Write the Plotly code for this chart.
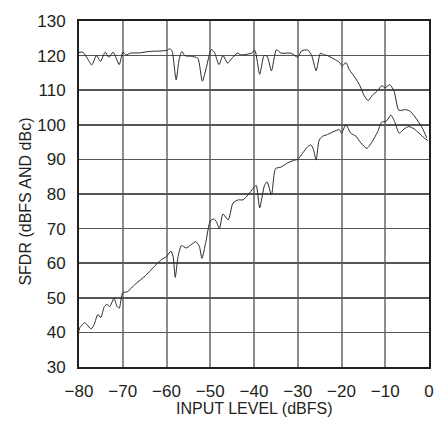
import plotly.graph_objects as go

# Upper curve (SFDR dBFS)
x_upper = [-80, -79.1, -78, -77.1, -76, -75.1, -74, -73.2, -72.2, -70.8, -70, -69.2, -68.3, -66, -64, -62, -60,
           -59.2, -58.7, -57.8, -57.1, -56.5, -55.8, -54.5, -53.5, -52.8, -51.8, -50.9, -49.8, -49.1, -48, -47.1,
           -46, -45.2, -43.8, -42.9, -40.6, -39.8, -38.7, -37.7, -37, -36, -34.9, -33.8, -31.5, -30, -29.1, -27.7,
           -26.8, -25.8, -24.8, -23.9, -23.2, -21.7, -20.5, -19.8, -19, -18.2, -17.1, -15.9, -14.8, -13.9, -12.9,
           -11.7, -10.8, -10, -9, -8, -6.9, -5.3, -4.2, -2.7, -1.5, -0.5]
y_upper = [120.9, 121, 119, 117.3, 120, 118.3, 121, 119.5, 121, 117.4, 121, 120.2, 120.7, 120.8, 121.2, 121.3, 121.5,
           122, 121.2, 113, 119, 121.2, 120, 119.8, 119.6, 119.2, 112.6, 116.5, 121.7, 121.1, 117.4, 120,
           117.8, 119, 120.7, 120.2, 120.7, 121.5, 114.6, 120, 119.8, 115.6, 121.7, 120.7, 120.7, 119.5, 121.4, 121.6,
           120, 115.6, 120.7, 120.2, 120, 119, 118.1, 117, 118, 115.9, 114, 111.6, 108.4, 107, 108.6,
           109.9, 111.3, 110.7, 111.6, 109.8, 104.2, 104.4, 103.8, 101.4, 99, 96.2]

# Lower curve (SFDR dBc)
x_lower = [-80, -79.8, -78.7, -77.2, -76.5, -75.7, -75, -74.2, -73.5, -73, -72, -71.3, -70.8, -70, -69, -67.1,
           -64.8, -63, -61.1, -60, -59, -58.5, -58, -57.4, -56.6, -55.5, -53.3, -52.5, -51.9, -51, -50, -49.2,
           -48.6, -47.9, -47.1, -45.9, -44.8, -43.6, -42.5, -41.4, -40.2, -39.5, -38.7, -37.6, -37, -36, -35.1,
           -33.8, -32.3, -30.7, -30, -28.9, -27.7, -27, -26.4, -25.8, -25.1, -24.3, -23.2, -21.7, -20.5, -20,
           -19, -17.9, -16.7, -15.6, -14.2, -12.9, -11.7, -10.8, -9.8, -8.7, -7.9, -6.8, -5.7, -4.6, -3.4,
           -2.3, -1.1, -0.3]
y_lower = [40.5, 41.4, 42.8, 41, 42.4, 45.2, 44.3, 47.5, 48.1, 47.4, 49.8, 47.5, 47, 51.5, 51.7, 54,
           56.4, 58.8, 61.1, 61.9, 63.5, 62, 55.9, 61.6, 65.1, 64.4, 66.2, 64.9, 61.4, 66.2, 72.2, 72.8,
           72, 70, 74.2, 72.5, 77.4, 78.3, 78.3, 79.7, 81.6, 82.5, 76, 82.5, 83.5, 79.7, 87.3,
           87.8, 89, 89.8, 90, 91.8, 93.7, 94.2, 92.8, 89.8, 95.6, 96.7, 97.2, 98.1, 98.6, 97.6,
           100, 97.6, 96.7, 94.8, 93.2, 95.3, 98.1, 100.8, 101, 102.8, 101, 97.6, 98.8, 99.5, 98.8,
           97.6, 96.2, 95.5]

x_ticks = [-80, -70, -60, -50, -40, -30, -20, -10, 0]
y_ticks = [30, 40, 50, 60, 70, 80, 90, 100, 110, 120, 130]
x_title = "INPUT LEVEL (dBFS)"
y_title = "SFDR (dBFS AND dBc)"

FONT = "Liberation Sans, Arial, Helvetica, sans-serif"
INK = "#231f20"

fig = go.Figure()
for xs, ys in ((x_upper, y_upper), (x_lower, y_lower)):
    fig.add_trace(go.Scatter(x=xs, y=ys, mode="lines",
                             line=dict(color="#2a2a2a", width=1, shape="spline", smoothing=0.6),
                             showlegend=False, hoverinfo="skip"))

fig.update_layout(
    width=446, height=421,
    margin=dict(l=79, r=15, t=15, b=54),
    paper_bgcolor="white", plot_bgcolor="white",
    font=dict(family=FONT, color=INK, size=17),
    xaxis=dict(range=[-80, 0], tickvals=x_ticks, showgrid=True, gridcolor="#8c8c8c", gridwidth=2,
               zeroline=False, showline=True, linecolor=INK, linewidth=2, mirror=True,
               ticks="outside", ticklen=8, tickcolor="rgba(0,0,0,0)",
               tickfont=dict(size=17, family=FONT, color=INK)),
    yaxis=dict(range=[30, 130], tickvals=y_ticks, showgrid=True, gridcolor="#555555", gridwidth=1.5,
               zeroline=False, showline=True, linecolor=INK, linewidth=2, mirror=True,
               ticks="outside", ticklen=8, tickcolor="rgba(0,0,0,0)",
               tickfont=dict(size=17, family=FONT, color=INK)),
    annotations=[
        dict(text=x_title, xref="paper", yref="paper", x=0.5, y=-0.119, xanchor="center", yanchor="middle",
             showarrow=False, font=dict(size=16, family=FONT, color=INK)),
        dict(text=y_title, xref="paper", yref="paper", x=-0.1534, y=0.479, xanchor="center", yanchor="middle",
             textangle=-90, showarrow=False, font=dict(size=16, family=FONT, color=INK)),
    ],
)

fig.write_html("out.html", config={"displayModeBar": False, "staticPlot": True},
               post_script="document.body.style.margin='0';document.body.style.overflow='hidden';")
